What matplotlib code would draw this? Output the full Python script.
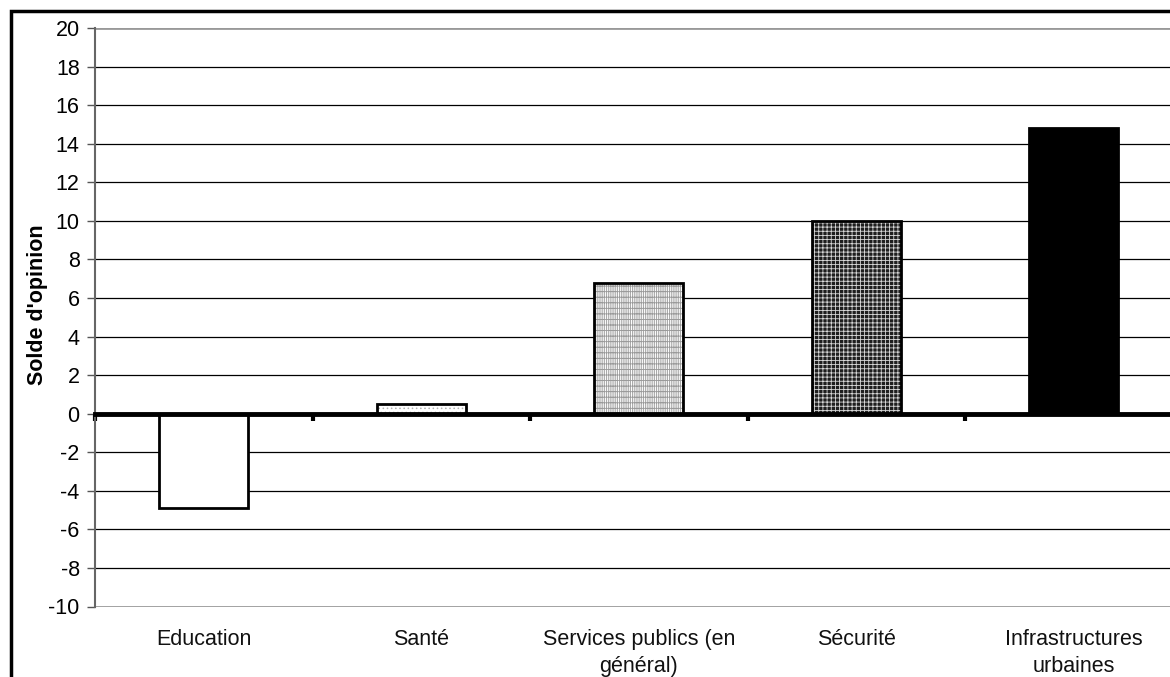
import matplotlib
matplotlib.use("Agg")
import matplotlib.pyplot as plt
from matplotlib.patches import Rectangle
from matplotlib.transforms import blended_transform_factory

plt.rcParams['font.family'] = ['Liberation Sans', 'DejaVu Sans']

categories = ["Education", "Santé", "Services publics (en\ngénéral)", "Sécurité",
              "Infrastructures\nurbaines"]
values = [-4.9, 0.5, 6.8, 10.0, 14.8]
y_ticks = list(range(-10, 21, 2))

# fill styles per bar: (face colour, hatch, hatch colour)
styles = [
    ("white", None, "black"),
    ("white", "....", "#b0b0b0"),
    ("white", "|||||||||---", "#9a9a9a"),
    ("#1e1e1e", "++++", "#d8d8d8"),
    ("black", None, "black"),
]

FS = 15.5

fig = plt.figure(figsize=(11.7, 6.77), dpi=100)
ax = fig.add_axes([95 / 1170, 1 - 606.5 / 677, 1087.5 / 1170, 578.5 / 677])

x = list(range(len(categories)))
plt.rcParams['hatch.linewidth'] = 0.6
for xi, v, (fc, hatch, hc) in zip(x, values, styles):
    ax.bar(xi, v, width=0.41, color=fc, edgecolor=hc, linewidth=0, hatch=hatch, zorder=3)
    ax.bar(xi, v, width=0.41, fill=False, edgecolor="black", linewidth=2, zorder=4)

ax.set_xlim(-0.5, len(categories) - 0.5)
ax.set_ylim(-10, 20)
ax.set_yticks(y_ticks)
ax.set_yticklabels([str(t) for t in y_ticks], fontsize=FS)
ax.tick_params(axis='y', direction='out', length=6, width=1, color='#555555', pad=5)

# horizontal gridlines
for t in y_ticks:
    if t in (-10, 20, 0):
        continue
    ax.axhline(t, color='black', linewidth=0.9, zorder=1)
ax.axhline(20, color='#999999', linewidth=2, zorder=1)
ax.axhline(-10, color='#999999', linewidth=2, zorder=1)

# category axis sits on zero
for side in ('top', 'right'):
    ax.spines[side].set_visible(False)
ax.spines['left'].set_color('#666666')
ax.spines['left'].set_linewidth(1.5)
ax.spines['bottom'].set_position(('data', 0))
ax.spines['bottom'].set_linewidth(3.5)
ax.spines['bottom'].set_zorder(5)
ax.set_xticks([i - 0.5 for i in range(len(categories) + 1)])
ax.set_xticklabels([])
ax.tick_params(axis='x', direction='out', length=5, width=3, color='black')

trans = blended_transform_factory(ax.transData, ax.transAxes)
for xi, lab in zip(x, categories):
    ax.text(xi, -0.039, lab, transform=trans, ha='center', va='top',
            fontsize=FS, linespacing=1.36, color='#111111')

fig.text(38 / 1170, 1 - 305 / 677, "Solde d'opinion", rotation=90,
         ha='center', va='center', fontsize=FS, fontweight='bold')

# outer chart frame
fig.patches.append(Rectangle((11 / 1170, -0.05), 1.1, 1 - 11 / 677 + 0.05,
                             transform=fig.transFigure, fill=False,
                             edgecolor='black', linewidth=2.5))

fig.savefig("out.png", dpi=100)
